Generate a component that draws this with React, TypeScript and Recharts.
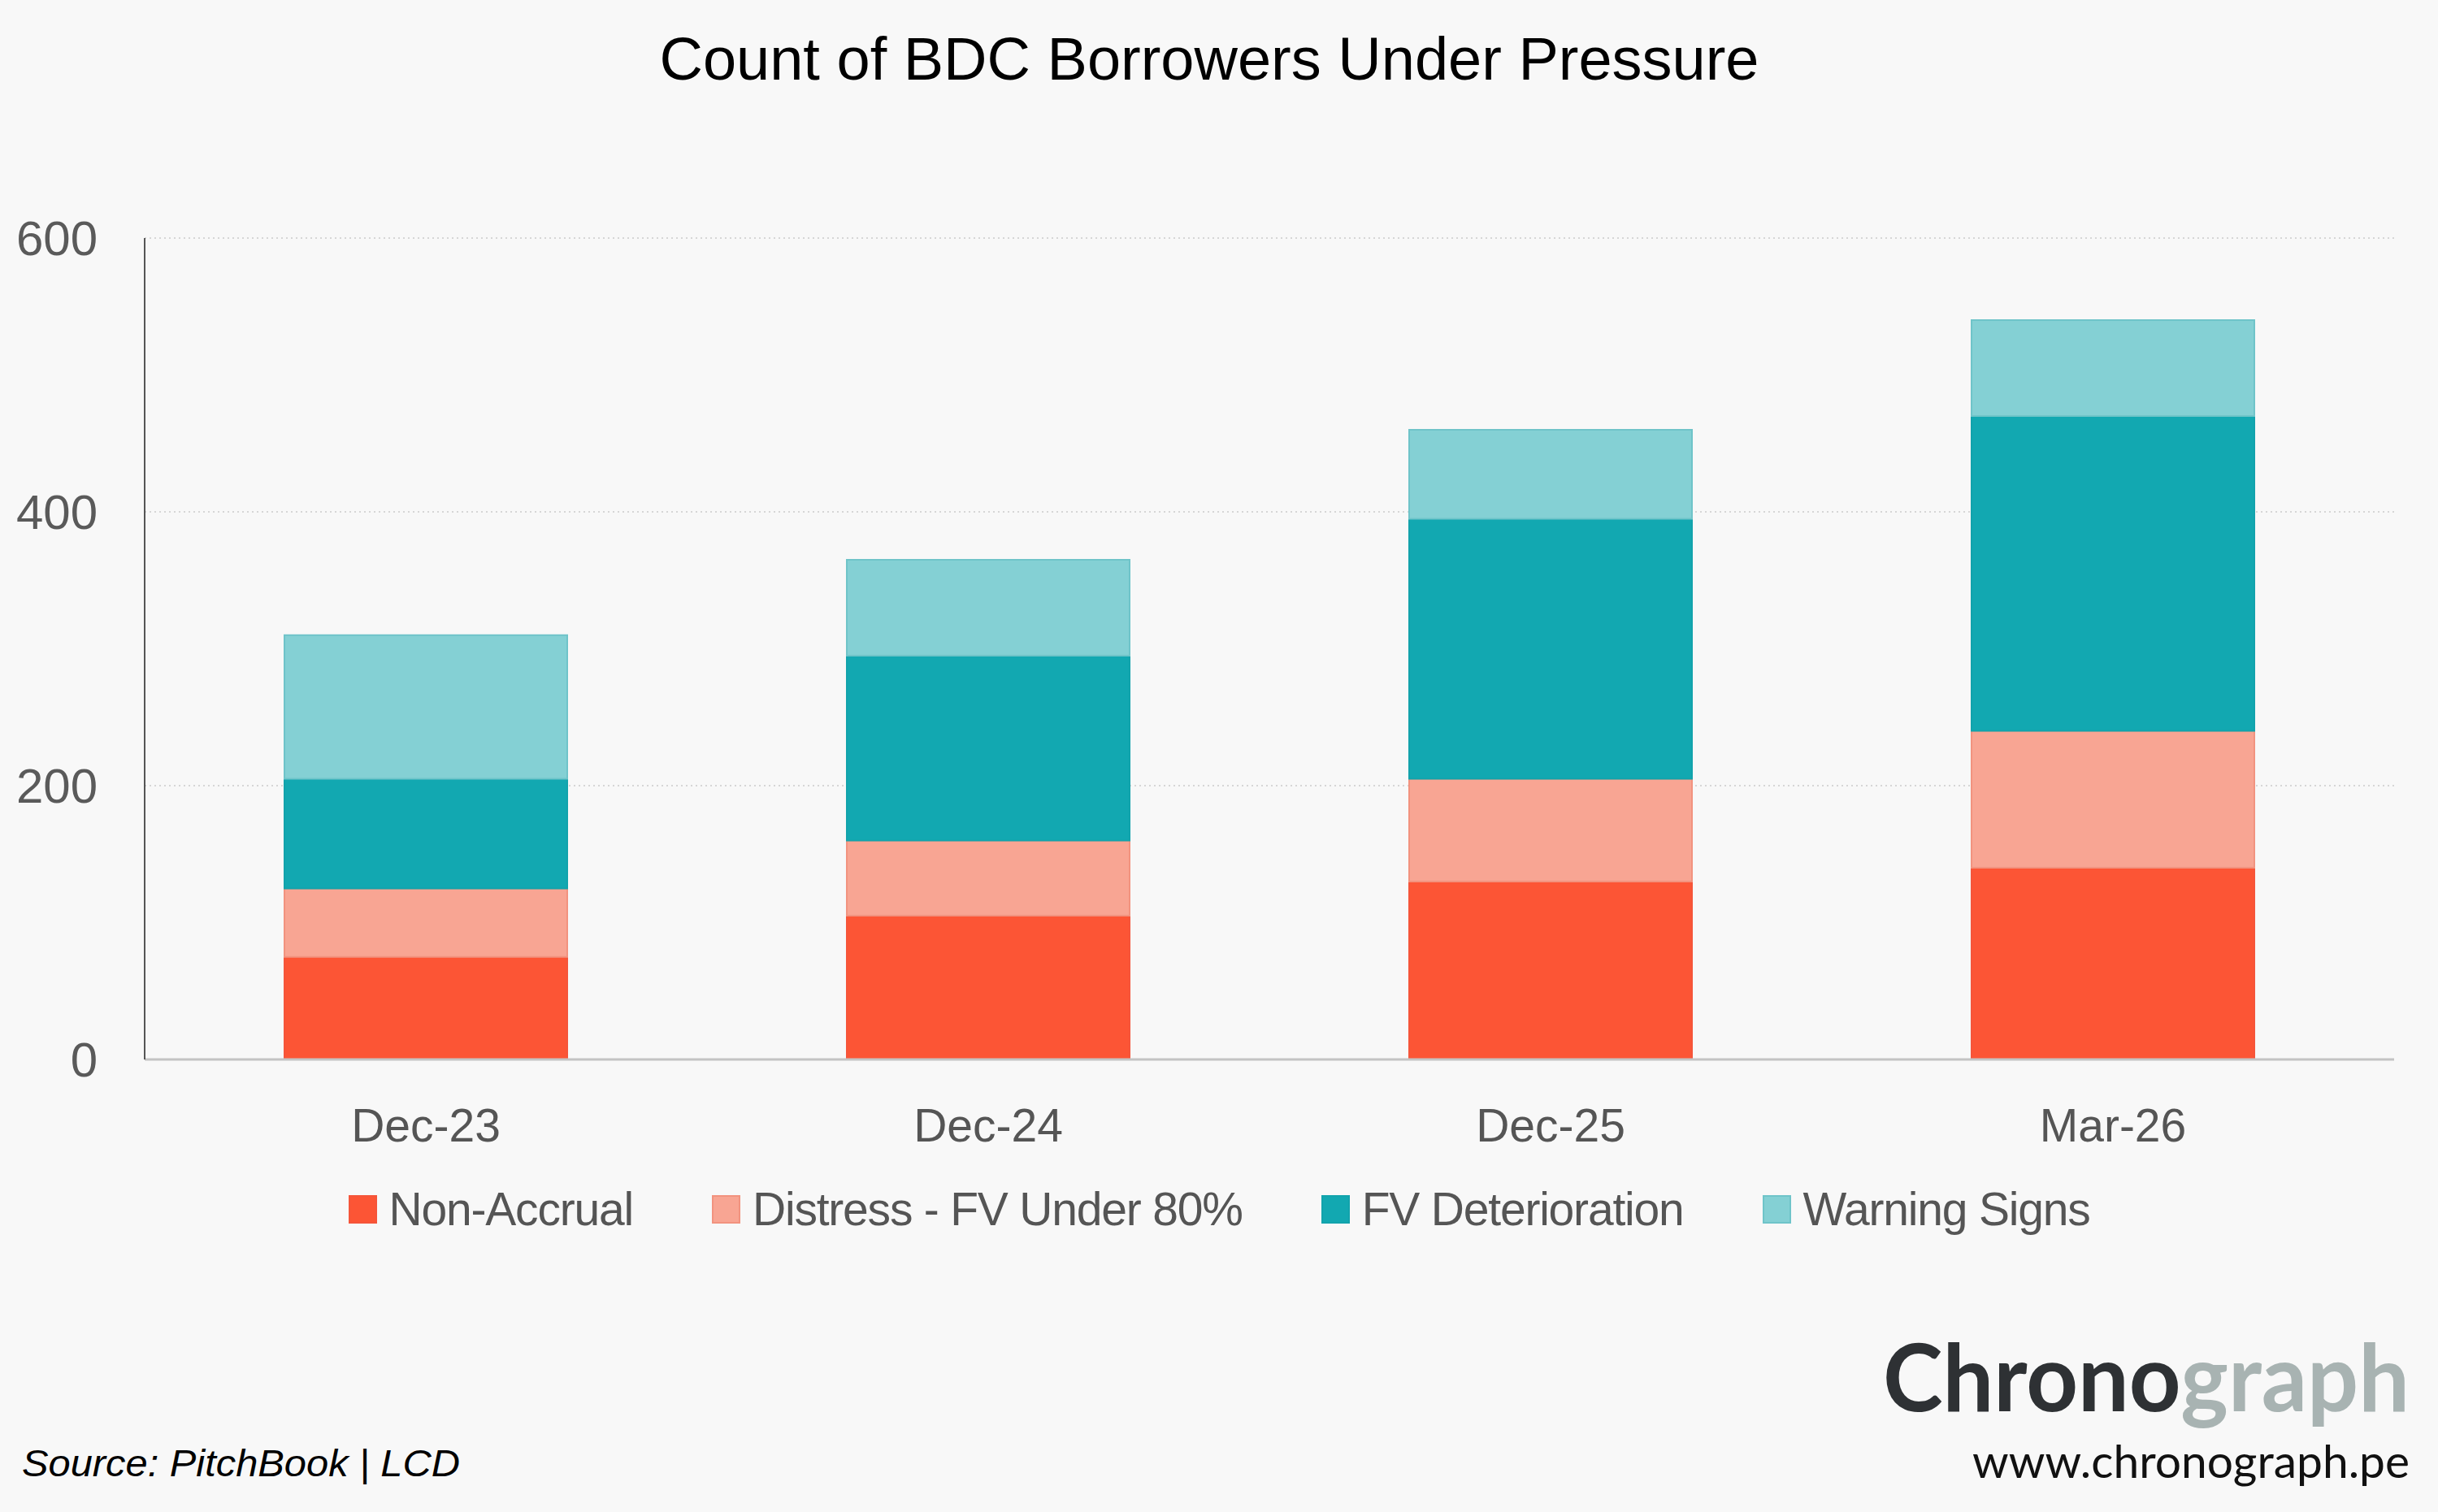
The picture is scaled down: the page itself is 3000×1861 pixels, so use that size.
import React from 'react';
import { ComposedChart, Bar, XAxis, YAxis, CartesianGrid, Legend } from 'recharts';

const categories = ['Dec-23', 'Dec-24', 'Dec-25', 'Mar-26'];
const nonAccrual = [75, 105, 130, 140];
const distress = [50, 55, 75, 100];
const fvDeterioration = [80, 135, 190, 230];
const warningSigns = [105, 70, 65, 70];
const yTicks = [0, 200, 400, 600];

const seriesNames = ['Non-Accrual', 'Distress - FV Under 80%', 'FV Deterioration', 'Warning Signs'];
const seriesKeys = ['na', 'ds', 'fv', 'ws'];
const fills = ['#fc5535', '#f8a593', '#12a8b1', '#84d0d4'];
const strokes = ['#f5553a', '#f2937f', '#12a3ac', '#6fc4c9'];

const data = categories.map((c, i) => ({
  cat: c,
  na: nonAccrual[i],
  ds: distress[i],
  fv: fvDeterioration[i],
  ws: warningSigns[i],
}));

const FONT = '"Liberation Sans", Arial, sans-serif';

const LegendContent = () => (
  <div
    style={{
      display: 'flex',
      justifyContent: 'center',
      alignItems: 'center',
      height: 60,
      width: 3000,
      fontFamily: FONT,
      fontSize: 57,
      lineHeight: '60px',
      color: '#555555',
      letterSpacing: '-1.2px',
    }}
  >
    {seriesNames.map((n, i) => (
      <div key={n} style={{ display: 'flex', alignItems: 'center', marginLeft: i === 0 ? 0 : 97 }}>
        <div
          style={{
            width: 35,
            height: 35,
            boxSizing: 'border-box',
            background: fills[i],
            border: `2px solid ${strokes[i]}`,
            marginRight: 15,
          }}
        />
        <span style={{ whiteSpace: 'nowrap' }}>{n}</span>
      </div>
    ))}
  </div>
);

export default function App() {
  return (
    <div
      style={{
        position: 'absolute',
        left: 0,
        top: 0,
        width: 3000,
        height: 1861,
        background: '#f8f8f8',
        overflow: 'hidden',
      }}
    >
      <ComposedChart
        width={3000}
        height={1861}
        data={data}
        margin={{ top: 293, right: 54, bottom: 457, left: 0 }}
      >
        <CartesianGrid vertical={false} stroke="#d6d6d6" strokeWidth={2} strokeDasharray="2 4" />
        <XAxis
          dataKey="cat"
          height={100}
          tickSize={0}
          tickMargin={61}
          axisLine={{ stroke: '#c4c4c4', strokeWidth: 3 }}
          tickLine={false}
          tick={{ fill: '#555555', fontSize: 57, fontFamily: FONT }}
        />
        <YAxis
          width={178}
          domain={[0, 600]}
          ticks={yTicks}
          tickSize={0}
          tickMargin={58}
          axisLine={{ stroke: '#555555', strokeWidth: 2 }}
          tickLine={false}
          tick={{ fill: '#5a5a5a', fontSize: 60, fontFamily: FONT }}
        />
        {seriesKeys.map((k, i) => (
          <Bar
            key={k}
            dataKey={k}
            name={seriesNames[i]}
            stackId="a"
            barSize={348}
            fill={fills[i]}
            stroke={strokes[i]}
            strokeWidth={2}
            isAnimationActive={false}
          />
        ))}
        <Legend
          layout="horizontal"
          verticalAlign="middle"
          align="center"
          content={<LegendContent />}
          wrapperStyle={{ top: 1458, left: 0, width: 3000, height: 60 }}
        />
      </ComposedChart>
      <svg
        width={3000}
        height={1861}
        style={{ position: 'absolute', left: 0, top: 0, pointerEvents: 'none' }}
      >
        <text
          x={1488}
          y={98}
          textAnchor="middle"
          fontFamily={FONT}
          fontSize={74}
          fill="#000000"
        >
          Count of BDC Borrowers Under Pressure
        </text>
        <text
          x={27}
          y={1817}
          fontFamily={FONT}
          fontStyle="italic"
          fontSize={46}
          fill="#000000"
          textLength={539}
          lengthAdjust="spacingAndGlyphs"
        >
          Source: PitchBook | LCD
        </text>
        <text
          x={2317}
          y={1737}
          fontFamily="Lato, sans-serif"
          fontWeight={700}
          fontSize={114}
          textLength={648}
          lengthAdjust="spacingAndGlyphs"
        >
          <tspan fill="#2e3134">Chrono</tspan>
          <tspan fill="#a8b3b2">graph</tspan>
        </text>
        <text
          x={2427}
          y={1819}
          fontFamily="Lato, sans-serif"
          fontSize={57}
          fill="#111111"
          textLength={538}
          lengthAdjust="spacingAndGlyphs"
        >
          www.chronograph.pe
        </text>
      </svg>
    </div>
  );
}
